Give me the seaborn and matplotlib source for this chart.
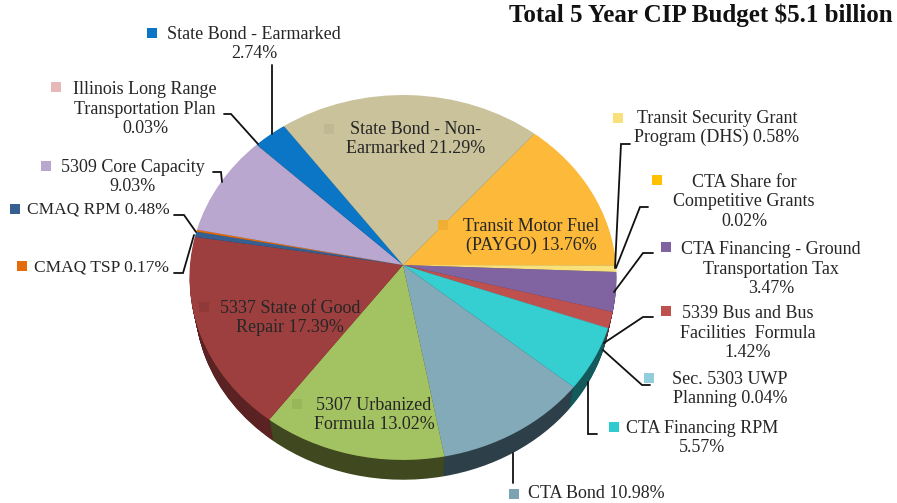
import numpy as np
import matplotlib.pyplot as plt
import seaborn as sns
from matplotlib.patches import Rectangle
from matplotlib.transforms import Transform

# clockwise from the State Bond / Transit Motor Fuel boundary
categories = ['Transit Motor Fuel (PAYGO)', 'CTA Share for Competitive Grants',
              'Transit Security Grant Program (DHS)', 'CTA Financing - Ground Transportation Tax',
              '5339 Bus and Bus Facilities Formula', 'Sec. 5303 UWP Planning',
              'CTA Financing RPM', 'CTA Bond', '5307 Urbanized Formula',
              '5337 State of Good Repair', 'CMAQ RPM', 'CMAQ TSP', '5309 Core Capacity',
              'Illinois Long Range Transportation Plan', 'State Bond - Earmarked',
              'State Bond - Non-Earmarked']
values = [13.76, 0.02, 0.58, 3.47, 1.42, 0.04, 5.57, 10.98, 13.02, 17.39,
          0.48, 0.17, 9.03, 0.03, 2.74, 21.29]
label_texts = ['Transit Motor Fuel\n(PAYGO) 13.76%', 'CTA Share for\nCompetitive Grants\n0.02%',
               'Transit Security Grant\nProgram (DHS) 0.58%',
               'CTA Financing - Ground\nTransportation Tax\n3.47%',
               '5339 Bus and Bus\nFacilities  Formula\n1.42%', 'Sec. 5303 UWP\nPlanning 0.04%',
               'CTA Financing RPM\n5.57%', 'CTA Bond 10.98%', '5307 Urbanized\nFormula 13.02%',
               '5337 State of Good\nRepair 17.39%', 'CMAQ RPM 0.48%', 'CMAQ TSP 0.17%',
               '5309 Core Capacity\n9.03%', 'Illinois Long Range\nTransportation Plan\n0.03%',
               'State Bond - Earmarked\n2.74%', 'State Bond - Non-\nEarmarked 21.29%']
top_colors = ['#FDB93A', '#FFC000', '#F8E07A', '#8064A2', '#BE504D', '#92CDDC', '#35CFD2',
              '#82AAB8', '#A3C261', '#9E3F3F', '#376092', '#E46C0A', '#B9A7CF', '#E6B8B7',
              '#0B75C6', '#C9C29B']
side_colors = ['#8A6418', '#8A6800', '#8A7A40', '#463658', '#682A28', '#4E7078', '#125A5C',
               '#2D3F48', '#40481F', '#5A2222', '#1C3450', '#7C3A04', '#655A72', '#7E6362',
               '#063F6C', '#6E6A54']
sq_colors = ['#F0AE34', '#FFC000', '#F8E07A', '#8064A2', '#BE504D', '#92CDDC', '#2FCBCE',
             '#7BA3B2', '#98B758', '#913838', '#376092', '#E46C0A', '#B9A7CF', '#E6B8B7',
             '#0B75C6', '#BFB892']

# pixel layout of the labels: text centre, legend square, leader line
text_xy = [(531, 236), (744, 202), (717, 128), (771, 269), (748, 333), (730, 389), (702, 438),
           (596, 494), (374, 415), (290, 318), (98, 210), (102, 268), (133, 177), (145, 109),
           (254, 44), (416, 139)]
square_xy = [(443, 225), (657, 180), (618, 118), (666, 247), (666, 311), (649, 378), (614, 427),
             (514, 494), (297, 404), (204, 307), (15, 209), (22, 266), (46, 166), (56, 87),
             (152, 33), (329, 129)]
leaders = [None,
           [(648, 207), (640, 207), (616, 268)],
           [(630, 144), (621, 144), (615, 268)],
           [(653, 253), (643, 253), (614, 292)],
           [(653, 317), (643, 317), (604, 343)],
           [(603, 350), (642, 385), (650, 385)],
           [(588, 382), (588, 434), (597, 434)],
           [(513, 453), (513, 483)],
           None, None,
           [(174, 215), (184, 215), (196, 232)],
           [(174, 273), (183, 273), (194, 235)],
           [(213, 172), (221, 172), (222, 182)],
           [(224, 114), (231, 114), (258, 144)],
           [(272, 65), (272, 134)],
           None]

sns.set_theme(style='white')
plt.rcParams['font.family'] = ['Liberation Serif', 'DejaVu Serif']

W, H = 897, 503
cx, cy, a = 403, 265, 213
b, k = 181.6, 0.0685
depth_px, layers = 25, 24
start = 49.5


class Tilt(Transform):
    # perspective view of the flat pie, output in image pixels
    input_dims = output_dims = 2

    def __init__(self, drop=0):
        super().__init__()
        self.drop = drop

    def transform_non_affine(self, values):
        x, y = np.asarray(values).T
        d = 1 + k * y
        return np.column_stack([cx + a * x / d, cy - b * y / d + self.drop])


fig = plt.figure(figsize=(W / 100, H / 100), dpi=100, facecolor='white')
ax = fig.add_axes([0, 0, 1, 1])

# extruded rim, deepest layer first, shrinking slightly towards the bottom
for i in range(layers, 0, -1):
    t = i / layers
    wedges, _ = ax.pie(values, colors=sns.color_palette(side_colors), startangle=start,
                       counterclock=False, radius=1 - 0.025 * t, wedgeprops={'linewidth': 0})
    for w in wedges:
        w.set_transform(Tilt(depth_px * t) + ax.transData)
wedges, _ = ax.pie(values, colors=sns.color_palette(top_colors), startangle=start,
                   counterclock=False, wedgeprops={'linewidth': 0})
for w in wedges:
    w.set_transform(Tilt() + ax.transData)

ax.set_aspect('auto')
ax.set_xlim(0, W)
ax.set_ylim(H, 0)
ax.axis('off')

for name, txt, xy, sq, col, line in zip(categories, label_texts, text_xy, square_xy, sq_colors, leaders):
    size = 12.5 if name.startswith('CMAQ') else 13
    ax.text(xy[0], xy[1], txt, ha='center', va='center', fontsize=size, color='#262626',
            linespacing=1.2)
    ax.add_patch(Rectangle((sq[0] - 5, sq[1] - 5), 10, 10, facecolor=col, edgecolor='none'))
    if line is not None:
        xs, ys = zip(*line)
        ax.plot(xs, ys, color='#111111', lw=1.3, solid_joinstyle='miter')

ax.text(701, 15, 'Total 5 Year CIP Budget \\$5.1 billion', ha='center', va='center', fontsize=18,
        fontweight='bold', color='#111111')

fig.savefig('out.png', dpi=100)
